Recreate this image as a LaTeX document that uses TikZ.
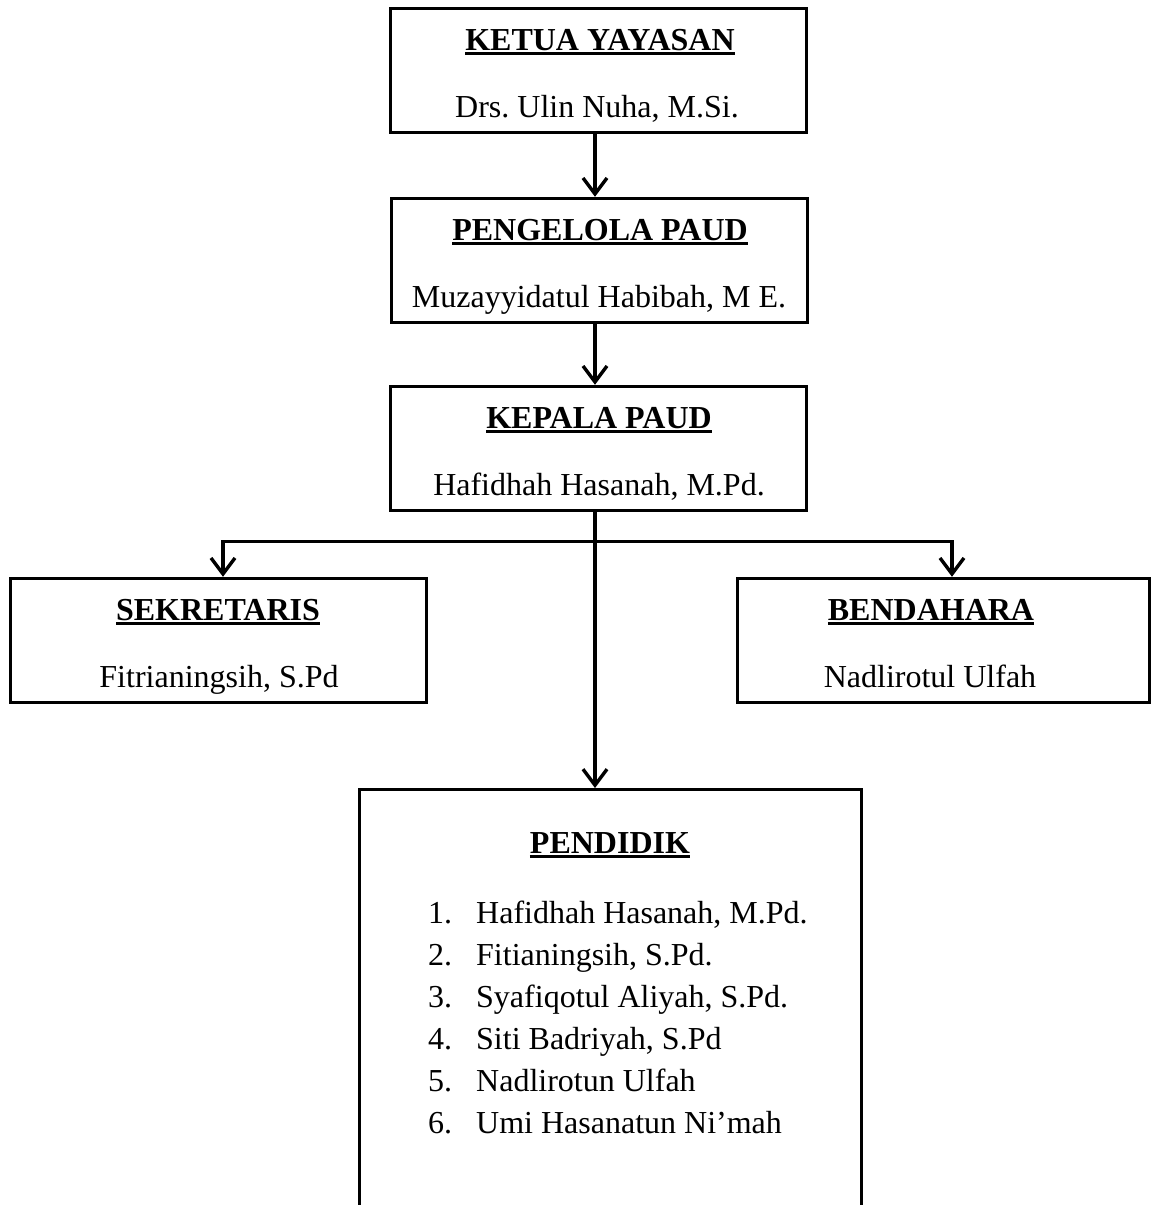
\documentclass[tikz,border=0pt]{standalone}
\usepackage{fontspec}
\setmainfont{Liberation Serif}
\usetikzlibrary{arrows.meta}
\frenchspacing
\newcommand\myul[1]{\setbox0\hbox{\textbf{#1}}\rlap{\copy0}\rule[-5pt]{\wd0}{2.8pt}}
\tikzset{
  orgbox/.style={draw, line width=3.4pt, rectangle, inner sep=0pt, minimum height=124pt},
  arr/.style={line width=3.4pt, line join=miter, -{Straight Barb[length=16pt,width=24pt]}},
  txt/.style={font=\fontsize{32}{38}\selectfont, inner sep=0pt, anchor=base},
  item/.style={font=\fontsize{32}{38}\selectfont, inner sep=0pt, anchor=base west},
}
\begin{document}
\begin{tikzpicture}[x=1pt,y=-1pt]
\clip (0,0) rectangle (1153,1205);
\fill[white] (0,0) rectangle (1153,1205);
% boxes
\node[orgbox, minimum width=416pt] (ketua) at (598.5,70.5) {};
\node[orgbox, minimum width=416pt] (peng) at (599.5,260.5) {};
\node[orgbox, minimum width=416pt] (kepala) at (598.5,448.5) {};
\node[orgbox, minimum width=416pt] (sek) at (218.5,640.5) {};
\node[orgbox, minimum width=412pt] (ben) at (943.5,640.5) {};
\node[orgbox, minimum width=502pt, minimum height=500pt, anchor=north] (pend) at (610.5,788) {};
% texts
\node[txt] (ketuaT) at (600,50) {\myul{KETUA YAYASAN}};
\node[txt] (ketuaN) at (597,117) {Drs. Ulin Nuha, M.Si.};
\node[txt] (pengT) at (600,240) {\myul{PENGELOLA PAUD}};
\node[txt] (pengN) at (599,307) {Muzayyidatul Habibah, M E.};
\node[txt] (kepT) at (599,428) {\myul{KEPALA PAUD}};
\node[txt] (kepN) at (599,495) {Hafidhah Hasanah, M.Pd.};
\node[txt] (sekT) at (218,620) {\myul{SEKRETARIS}};
\node[txt] (sekN) at (219,687) {Fitrianingsih, S.Pd};
\node[txt] (benT) at (931,620) {\myul{BENDAHARA}};
\node[txt] (benN) at (930,687) {Nadlirotul Ulfah};
\node[txt] (pendT) at (610,853) {\myul{PENDIDIK}};
\foreach \n/\name [count=\i] in {1/{Hafidhah Hasanah, M.Pd.},2/{Fitianingsih, S.Pd.},3/{Syafiqotul Aliyah, S.Pd.},4/{Siti Badriyah, S.Pd},5/{Nadlirotun Ulfah},6/{Umi Hasanatun Ni’mah}}{
  \node[item] (num\i) at (428,{923+42*(\i-1)}) {\n.};
  \node[item] (nm\i) at (476,{923+42*(\i-1)}) {\name};
}
% connectors
\coordinate (cx) at (595,0);
\coordinate (hl) at (223,541.5);
\coordinate (hr) at (952,541.5);
\draw[arr] (ketua.south -| cx) -- (peng.north -| cx);
\draw[arr] (peng.south -| cx) -- (kepala.north -| cx);
\draw[arr] (kepala.south -| cx) -- (pend.north -| cx);
\draw[arr] (hl -| cx) -- (hl) -- (hl |- sek.north);
\draw[arr] (hr -| cx) -- (hr) -- (hr |- ben.north);
\end{tikzpicture}
\end{document}
